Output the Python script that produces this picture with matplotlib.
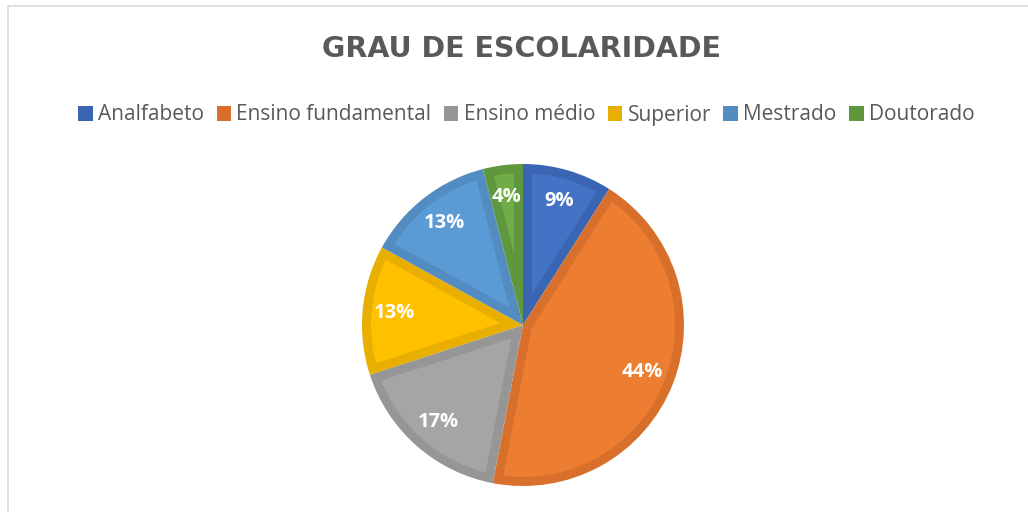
import numpy as np
import matplotlib.pyplot as plt
from matplotlib.patches import Patch, Rectangle, Polygon

# dados do gráfico
categorias = ['Analfabeto', 'Ensino fundamental', 'Ensino médio', 'Superior', 'Mestrado', 'Doutorado']
percentuais = [9, 44, 17, 13, 13, 4]

cores = ['#4472C4', '#ED7D31', '#A5A5A5', '#FFC000', '#5B9BD5', '#70AD47']
bordas = ['#3A65B3', '#D8702B', '#969696', '#E8AE00', '#528CC1', '#5F983C']

plt.rcParams['font.family'] = ['Open Sans', 'DejaVu Sans']

fig = plt.figure(figsize=(10.28, 5.12), dpi=100)
fig.patch.set_facecolor('white')

# moldura do gráfico
fig.patches.append(Rectangle((8 / 1028, -0.1), 1.2, 1.1 - 6 / 512, transform=fig.transFigure,
                             fill=False, edgecolor='#D9D9D9', linewidth=1.2))

cx, cy, r = 523, 325, 161
ax = fig.add_axes([(cx - r) / 1028, (512 - cy - r) / 512, 2 * r / 1028, 2 * r / 512])

# fatias com a cor da borda, depois o miolo mais claro por cima
wedges, textos, autotextos = ax.pie(percentuais, colors=bordas, startangle=90, counterclock=False,
                                    autopct='%.0f%%', pctdistance=0.8, radius=1,
                                    wedgeprops={'linewidth': 0},
                                    textprops={'color': 'white', 'fontsize': 14.5, 'fontweight': 'bold'})

d = 9 / r  # largura da borda
for w, c in zip(wedges, cores):
    t1, t2 = np.radians(w.theta1), np.radians(w.theta2)
    meio = (t1 + t2) / 2
    a = d / np.sin((t2 - t1) / 2)
    ap = (a * np.cos(meio), a * np.sin(meio))
    off = np.arcsin(d / (1 - d))
    tt = np.linspace(t1 + off, t2 - off, 80)
    pts = [ap] + list(zip((1 - d) * np.cos(tt), (1 - d) * np.sin(tt)))
    ax.add_patch(Polygon(pts, closed=True, facecolor=c, edgecolor='none', zorder=w.get_zorder() + 0.5))
for t in autotextos:
    t.set_zorder(5)

ax.set_xlim(-1, 1)
ax.set_ylim(-1, 1)
ax.set_aspect('equal')

fig.text(522 / 1028, 1 - 49 / 512, 'GRAU DE ESCOLARIDADE', ha='center', va='center',
         fontsize=20.5, fontweight='bold', color='#595959', family='DejaVu Sans')

handles = [Patch(facecolor=b, edgecolor='none') for b in bordas]
fig.legend(handles, categorias, loc='center', bbox_to_anchor=(0.512, 1 - 115 / 512), ncol=6,
           frameon=False, fontsize=15, labelcolor='#595959', handlelength=0.7, handleheight=0.7,
           handletextpad=0.25, columnspacing=0.6)

fig.savefig('out.png', dpi=100)
